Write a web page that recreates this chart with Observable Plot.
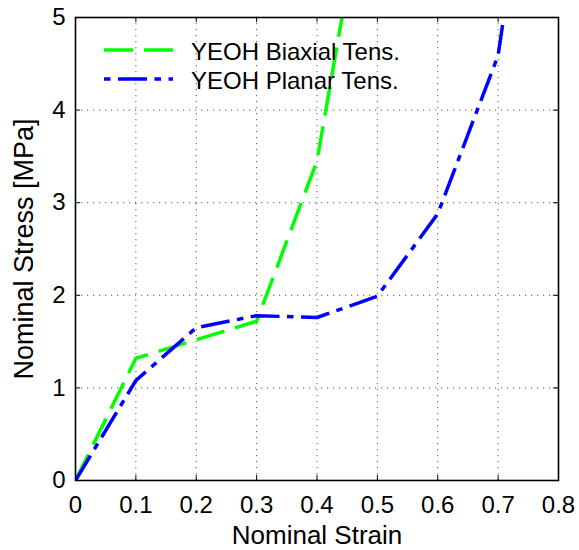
<!DOCTYPE html>
<html><head><meta charset="utf-8">
<script src="https://cdn.jsdelivr.net/npm/d3@7"></script>
<script src="https://cdn.jsdelivr.net/npm/@observablehq/plot@0.6"></script>
<style>body{margin:0;background:#fff;} #chart{width:579px;height:550px;}</style>
</head><body><div id="chart"></div>
<script>
const strain = [0, 0.1, 0.2, 0.3, 0.4, 0.5, 0.6, 0.7, 0.8];
const biaxialStress = [0, 1.32, 1.52, 1.72, 3.45, 7.2];
const planarStress = [0, 1.08, 1.65, 1.78, 1.76, 1.99, 2.88, 4.59, 9.05];
const xTicks = [0, 0.1, 0.2, 0.3, 0.4, 0.5, 0.6, 0.7, 0.8];
const yTicks = [0, 1, 2, 3, 4, 5];
const seriesNames = ["YEOH Biaxial Tens.", "YEOH Planar Tens."];
const seriesColors = ["#00ff00", "#0000ff"];
const seriesDash = ["29,11", "29,7.5,6.5,7.5"];
const xLabel = "Nominal Strain";
const yLabel = "Nominal Stress [MPa]";

const biaxial = biaxialStress.map((s, i) => ({strain: strain[i], stress: s}));
const planar = planarStress.map((s, i) => ({strain: strain[i], stress: s}));

const W = 579, H = 550;
const mL = 75, mR = 21, mT = 17, mB = 70;
const fw = W - mL - mR, fh = H - mT - mB;
const tickLen = 5;
const font = "'Liberation Sans', Arial, Helvetica, sans-serif";

const plot = Plot.plot({
  width: W, height: H,
  marginLeft: mL, marginRight: mR, marginTop: mT, marginBottom: mB,
  style: {fontFamily: font, fontSize: "24px", background: "#fff", color: "#000"},
  x: {domain: [0, 0.8]},
  y: {domain: [0, 5]},
  marks: [
    Plot.gridX(xTicks, {stroke: "#555", strokeOpacity: 1, strokeWidth: 1, strokeDasharray: "1.2,4.8"}),
    Plot.gridY(yTicks, {stroke: "#555", strokeOpacity: 1, strokeWidth: 1, strokeDasharray: "1.2,4.8"}),
    Plot.tickX(xTicks, {x: d => d, insetTop: fh - tickLen, stroke: "#000", strokeWidth: 1}),
    Plot.tickX(xTicks, {x: d => d, insetBottom: fh - tickLen, stroke: "#000", strokeWidth: 1}),
    Plot.tickY(yTicks, {y: d => d, insetRight: fw - tickLen, stroke: "#000", strokeWidth: 1}),
    Plot.tickY(yTicks, {y: d => d, insetLeft: fw - tickLen, stroke: "#000", strokeWidth: 1}),
    Plot.axisX(xTicks, {tickSize: 0, tickPadding: 15, tickFormat: d => String(d), label: null, fontSize: 24}),
    Plot.axisY(yTicks, {tickSize: 0, tickPadding: 10, tickFormat: d => String(d), label: null, fontSize: 24}),
    Plot.line(biaxial, {x: "strain", y: "stress", stroke: seriesColors[0], strokeWidth: 3.5, strokeDasharray: seriesDash[0], clip: true, strokeLinecap: "butt", strokeLinejoin: "miter"}),
    Plot.line(planar, {x: "strain", y: "stress", stroke: seriesColors[1], strokeWidth: 3.5, strokeDasharray: seriesDash[1], clip: true, strokeLinecap: "butt", strokeLinejoin: "miter"}),
    Plot.frame({stroke: "#000", strokeWidth: 1.6}),
    Plot.text([xLabel], {frameAnchor: "bottom", dy: 55, fontSize: 26, lineAnchor: "middle", textAnchor: "middle", fill: "#000"}),
    Plot.text([yLabel], {frameAnchor: "left", dx: -51, rotate: -90, fontSize: 27, lineAnchor: "middle", textAnchor: "middle", fill: "#000"})
  ]
});

// legend drawn inside the plot svg
const svg = d3.select(plot);
const lg = svg.append("g").attr("class", "legend").attr("text-anchor", "start");
const legX0 = 104, legX1 = 173, legTextX = 191, legY0 = 50, legDy = 29;
const dashOffsets = [0, 36.5];
seriesNames.forEach((name, i) => {
  const yy = legY0 + i * legDy;
  lg.append("line")
    .attr("x1", legX0).attr("x2", legX1).attr("y1", yy).attr("y2", yy)
    .attr("stroke", seriesColors[i]).attr("stroke-width", 3.5)
    .attr("stroke-dasharray", seriesDash[i]).attr("stroke-dashoffset", dashOffsets[i]);
  lg.append("text")
    .attr("x", legTextX).attr("y", yy).attr("dy", "0.4em")
    .attr("text-anchor", "start")
    .attr("font-size", 24).attr("font-family", font).attr("fill", "#000")
    .text(name);
});

document.getElementById("chart").appendChild(plot);
</script>
</body></html>
